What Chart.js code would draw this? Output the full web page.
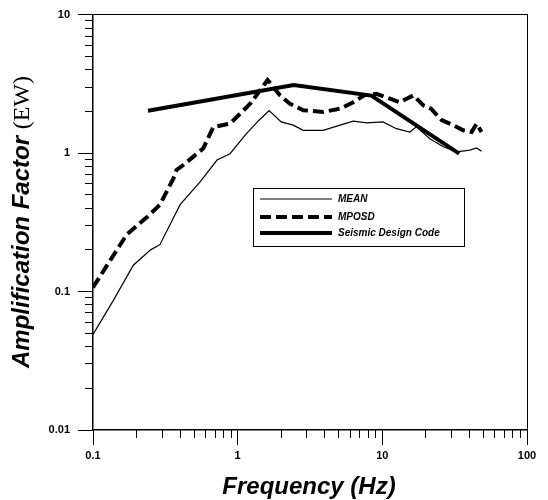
<!DOCTYPE html>
<html>
<head>
<meta charset="utf-8">
<script src="https://cdn.jsdelivr.net/npm/chart.js@4/dist/chart.umd.min.js"></script>
<style>
  html, body { margin: 0; padding: 0; background: #fff; }
  #wrap { width: 548px; height: 500px; }
</style>
</head>
<body>
<div id="wrap"><canvas id="graphique" width="548" height="500"></canvas></div>
<script>
// ---- donnees ----
const meanFreq = [0.1, 0.138, 0.19, 0.25, 0.29, 0.40, 0.55, 0.72, 0.885, 1.15, 1.4, 1.65, 2.0, 2.42, 2.84, 3.9, 5.1, 6.3, 7.8, 10.1, 12.5, 15.5, 17.2, 21.3, 26.4, 32.6, 40.3, 44.8, 48.5];
const meanVal  = [0.049, 0.086, 0.155, 0.20, 0.218, 0.424, 0.62, 0.89, 0.99, 1.38, 1.72, 2.03, 1.68, 1.59, 1.46, 1.46, 1.59, 1.70, 1.65, 1.68, 1.50, 1.42, 1.55, 1.27, 1.11, 1.02, 1.05, 1.09, 1.03];

const mposdFreq = [0.1, 0.171, 0.24, 0.29, 0.36, 0.378, 0.421, 0.578, 0.678, 0.885, 1.22, 1.61, 1.96, 2.3, 2.84, 3.9, 5.1, 6.3, 7.5, 9.1, 11.3, 13.2, 16.4, 19.2, 21.7, 25.7, 30.9, 36.2, 41.4, 44.8, 48.5];
const mposdVal  = [0.107, 0.258, 0.35, 0.424, 0.657, 0.755, 0.82, 1.08, 1.54, 1.63, 2.27, 3.37, 2.61, 2.27, 2.04, 1.98, 2.09, 2.33, 2.61, 2.68, 2.47, 2.33, 2.61, 2.21, 2.09, 1.73, 1.59, 1.46, 1.42, 1.63, 1.42];

const codeFreq = [0.24, 2.44, 8.4, 34];
const codeVal  = [2.02, 3.1, 2.6, 0.99];

const xMajorTicks = [0.1, 1, 10, 100];
const yMajorTicks = [0.01, 0.1, 1, 10];

// ticks mineurs 2..9 de chaque decade
function ticksMineurs(debut, fin) {
    const liste = [];
    for (let d = debut; d < fin; d *= 10) {
        for (let k = 2; k <= 9; k++) liste.push({ value: +(d * k).toPrecision(3) });
    }
    return liste;
}

function points(xs, ys) {
    return xs.map((x, i) => ({ x: x, y: ys[i] }));
}

// ---- legende et titres dessines a la main ----
const pluginTextes = {
    id: 'textes',
    afterDraw(chart) {
        const ctx = chart.ctx;
        ctx.save();
        ctx.fillStyle = '#000';

        // titre axe X
        ctx.font = 'italic bold 24px "Liberation Sans", Arial, sans-serif';
        ctx.textAlign = 'center';
        ctx.textBaseline = 'middle';
        ctx.fillText('Frequency (Hz)', 309, 487);

        // titre axe Y
        ctx.translate(22, 222);
        ctx.rotate(-Math.PI / 2);
        const partie1 = 'Amplification Factor ';
        const partie2 = '(EW)';
        ctx.font = 'italic bold 24px "Liberation Sans", Arial, sans-serif';
        const l1 = ctx.measureText(partie1).width;
        ctx.font = '24px "Liberation Serif", "Times New Roman", serif';
        const l2 = ctx.measureText(partie2).width;
        let x0 = -(l1 + l2) / 2;
        ctx.textAlign = 'left';
        ctx.font = 'italic bold 24px "Liberation Sans", Arial, sans-serif';
        ctx.fillText(partie1, x0, 0);
        ctx.font = '24px "Liberation Serif", "Times New Roman", serif';
        ctx.fillText(partie2, x0 + l1, 1);
        ctx.restore();

        // legende
        ctx.save();
        ctx.strokeStyle = '#000';
        ctx.lineWidth = 1;
        ctx.strokeRect(253.5, 188.5, 211, 58);
        const lignesY = [199, 217, 233];
        chart.data.datasets.forEach((ds, i) => {
            ctx.beginPath();
            ctx.lineWidth = ds.borderWidth;
            ctx.setLineDash(ds.borderDash || []);
            ctx.moveTo(260, lignesY[i]);
            ctx.lineTo(332, lignesY[i]);
            ctx.stroke();
            ctx.setLineDash([]);
            ctx.font = 'italic bold 10px "Liberation Sans", Arial, sans-serif';
            ctx.textAlign = 'left';
            ctx.textBaseline = 'middle';
            ctx.fillText(ds.label, 338, lignesY[i]);
        });
        ctx.restore();
    }
};

const policeTicks = { family: '"Liberation Sans", Arial, sans-serif', size: 11, weight: 'bold' };

const ctx = document.getElementById('graphique').getContext('2d');
new Chart(ctx, {
    type: 'scatter',
    data: {
        datasets: [
            { label: 'MEAN', data: points(meanFreq, meanVal), borderColor: '#000', borderWidth: 1.2, showLine: true, pointRadius: 0, tension: 0 },
            { label: 'MPOSD', data: points(mposdFreq, mposdVal), borderColor: '#000', borderWidth: 4, borderDash: [11, 5], showLine: true, pointRadius: 0, tension: 0 },
            { label: 'Seismic Design Code', data: points(codeFreq, codeVal), borderColor: '#000', borderWidth: 4, showLine: true, pointRadius: 0, tension: 0 }
        ]
    },
    options: {
        responsive: false,
        animation: false,
        layout: { padding: { left: 0, right: 21, top: 12, bottom: 0 } },
        plugins: { legend: { display: false }, tooltip: { enabled: false } },
        scales: {
            xMinor: {
                type: 'logarithmic', position: 'bottom', min: 0.1, max: 100, weight: 0,
                afterBuildTicks: axe => { axe.ticks = ticksMineurs(0.1, 100); },
                afterFit: axe => { axe.height = 0; },
                ticks: { display: false },
                grid: { drawOnChartArea: false, tickLength: 8, color: '#000', lineWidth: 1 },
                border: { display: false }
            },
            x: {
                type: 'logarithmic', position: 'bottom', min: 0.1, max: 100, weight: 1,
                afterBuildTicks: axe => { axe.ticks = xMajorTicks.map(v => ({ value: v })); },
                afterFit: axe => { axe.height = 70; },
                ticks: { color: '#000', font: policeTicks, padding: 4, autoSkip: false, maxRotation: 0, callback: v => String(v) },
                grid: { drawOnChartArea: false, tickLength: 15, color: '#000', lineWidth: 1 },
                border: { display: true, color: '#000', width: 1.5 }
            },
            xTop: {
                type: 'logarithmic', position: 'top', min: 0.1, max: 100,
                afterFit: axe => { axe.height = 0; },
                ticks: { display: false },
                grid: { display: false },
                border: { display: true, color: '#000', width: 1 }
            },
            yMinor: {
                type: 'logarithmic', position: 'left', min: 0.01, max: 10, weight: 0,
                afterBuildTicks: axe => { axe.ticks = ticksMineurs(0.01, 10); },
                afterFit: axe => { axe.width = 0; },
                ticks: { display: false },
                grid: { drawOnChartArea: false, tickLength: 8, color: '#000', lineWidth: 1 },
                border: { display: false }
            },
            y: {
                type: 'logarithmic', position: 'left', min: 0.01, max: 10, weight: 1,
                afterBuildTicks: axe => { axe.ticks = yMajorTicks.map(v => ({ value: v })); },
                afterFit: axe => { axe.width = 93; },
                ticks: { color: '#000', font: policeTicks, padding: 8, autoSkip: false, callback: v => String(v) },
                grid: { drawOnChartArea: false, tickLength: 15, color: '#000', lineWidth: 1 },
                border: { display: true, color: '#000', width: 1.5 }
            },
            yRight: {
                type: 'logarithmic', position: 'right', min: 0.01, max: 10,
                afterFit: axe => { axe.width = 0; },
                ticks: { display: false },
                grid: { display: false },
                border: { display: true, color: '#000', width: 1 }
            }
        }
    },
    plugins: [pluginTextes]
});
</script>
</body>
</html>
